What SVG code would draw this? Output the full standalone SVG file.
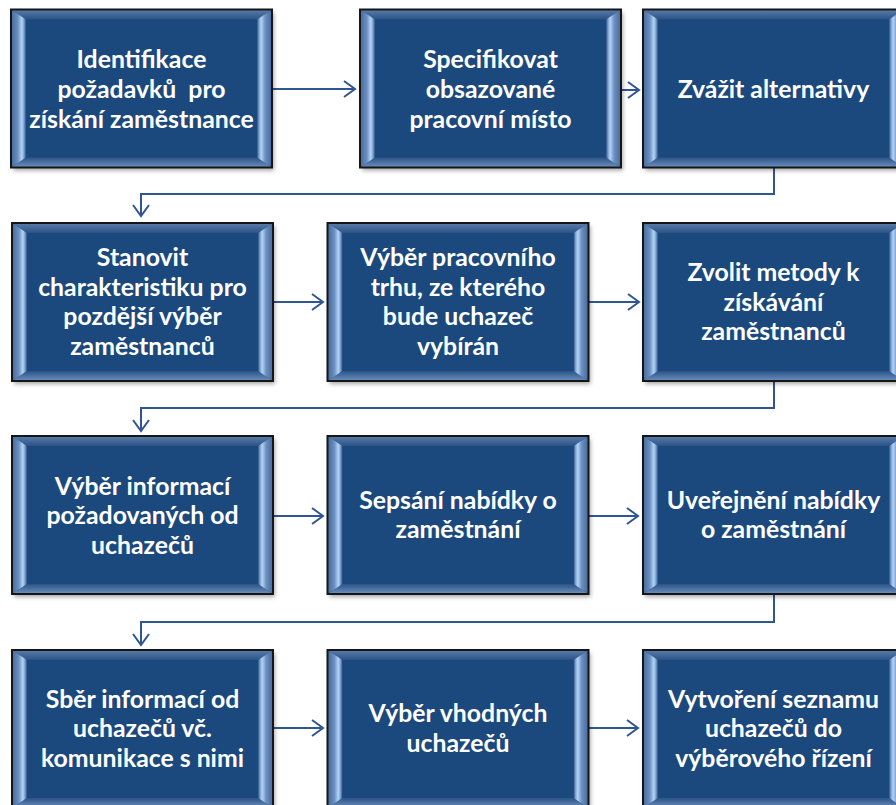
<svg xmlns="http://www.w3.org/2000/svg" xmlns:xlink="http://www.w3.org/1999/xlink" width="896" height="805" viewBox="0 0 896 805">
<style>
  .lbl { font-family: Lato, "Open Sans", "Liberation Sans", sans-serif; font-weight: bold; font-size: 24.8px; fill: #ffffff; text-anchor: middle; }
  .conn { fill: none; stroke: #2f5693; stroke-width: 2; }
</style>
<defs>
  <linearGradient id="gTop" x1="0" y1="0" x2="0" y2="1">
    <stop offset="0" stop-color="#5a7eab"/>
    <stop offset="1" stop-color="#2c5387"/>
  </linearGradient>
  <linearGradient id="gBot" x1="0" y1="0" x2="0" y2="1">
    <stop offset="0" stop-color="#2c5387"/>
    <stop offset="1" stop-color="#6d91bf"/>
  </linearGradient>
  <linearGradient id="gLeft" x1="0" y1="0" x2="1" y2="0">
    <stop offset="0" stop-color="#46689a"/>
    <stop offset="0.45" stop-color="#6a8fc0"/>
    <stop offset="0.72" stop-color="#b4d3f4"/>
    <stop offset="0.86" stop-color="#7ea3d2"/>
    <stop offset="1" stop-color="#2a5186"/>
  </linearGradient>
  <linearGradient id="gRight" x1="0" y1="0" x2="1" y2="0">
    <stop offset="0" stop-color="#2a5186"/>
    <stop offset="0.14" stop-color="#7ea3d2"/>
    <stop offset="0.28" stop-color="#b4d3f4"/>
    <stop offset="0.55" stop-color="#6a8fc0"/>
    <stop offset="1" stop-color="#46689a"/>
  </linearGradient>
  <filter id="shadow" x="-5%" y="-5%" width="115%" height="120%">
    <feDropShadow dx="2" dy="3" stdDeviation="2" flood-color="#000" flood-opacity="0.35"/>
  </filter>
  <g id="box">
    <rect x="0" y="0" width="261" height="158" fill="#1f497d" filter="url(#shadow)"/>
    <polygon points="0,0 261,0 246,10 15,10" fill="url(#gTop)"/>
    <polygon points="0,158 261,158 246,148 15,148" fill="url(#gBot)"/>
    <polygon points="0,0 15,10 15,148 0,158" fill="url(#gLeft)"/>
    <polygon points="261,0 246,10 246,148 261,158" fill="url(#gRight)"/>
    <rect x="0" y="0" width="261" height="158" fill="none" stroke="#161616" stroke-width="2"/>
  </g>
  <marker id="arr" markerWidth="14" markerHeight="18" refX="12" refY="9" orient="auto" markerUnits="userSpaceOnUse">
    <path d="M1,1 L12,9 L1,17" fill="none" stroke="#2f5693" stroke-width="2"/>
  </marker>
</defs>

<g id="connectors">
  <path class="conn" d="M272,89 H355" marker-end="url(#arr)"/>
  <path class="conn" d="M621,90 H639" marker-end="url(#arr)"/>
  <path class="conn" d="M774,167 V194 H141 V216" marker-end="url(#arr)"/>
  <path class="conn" d="M272,302 H323" marker-end="url(#arr)"/>
  <path class="conn" d="M588,302 H639" marker-end="url(#arr)"/>
  <path class="conn" d="M774,381 V408 H141 V431" marker-end="url(#arr)"/>
  <path class="conn" d="M272,516 H323" marker-end="url(#arr)"/>
  <path class="conn" d="M587,516 H638" marker-end="url(#arr)"/>
  <path class="conn" d="M774,594 V622 H141 V645" marker-end="url(#arr)"/>
  <path class="conn" d="M272,728 H323" marker-end="url(#arr)"/>
  <path class="conn" d="M587,728 H638" marker-end="url(#arr)"/>
</g>

<g id="n1">
  <use xlink:href="#box" href="#box" x="11" y="9.5"/>
  <text class="lbl" xml:space="preserve"><tspan x="141.5" y="68">Identifikace</tspan><tspan x="141.5" y="98">požadavků  pro</tspan><tspan x="141.5" y="127.5">získání zaměstnance</tspan></text>
</g>
<g id="n2">
  <use xlink:href="#box" href="#box" x="360" y="9.5"/>
  <text class="lbl"><tspan x="490.5" y="68">Specifikovat</tspan><tspan x="490.5" y="98">obsazované</tspan><tspan x="490.5" y="127.5">pracovní místo</tspan></text>
</g>
<g id="n3">
  <use xlink:href="#box" href="#box" x="643" y="9.5"/>
  <text class="lbl"><tspan x="773.5" y="97.5">Zvážit alternativy</tspan></text>
</g>

<g id="n4">
  <use xlink:href="#box" href="#box" x="12" y="223"/>
  <text class="lbl"><tspan x="142.5" y="266">Stanovit</tspan><tspan x="142.5" y="295.5">charakteristiku pro</tspan><tspan x="142.5" y="325">pozdější výběr</tspan><tspan x="142.5" y="354.5">zaměstnanců</tspan></text>
</g>
<g id="n5">
  <use xlink:href="#box" href="#box" x="327.5" y="223"/>
  <text class="lbl"><tspan x="458" y="266">Výběr pracovního</tspan><tspan x="458" y="295.5">trhu, ze kterého</tspan><tspan x="458" y="325">bude uchazeč</tspan><tspan x="458" y="354.5">vybírán</tspan></text>
</g>
<g id="n6">
  <use xlink:href="#box" href="#box" x="643" y="223"/>
  <text class="lbl"><tspan x="773.5" y="281">Zvolit metody k</tspan><tspan x="773.5" y="310.5">získávání</tspan><tspan x="773.5" y="340">zaměstnanců</tspan></text>
</g>

<g id="n7">
  <use xlink:href="#box" href="#box" x="12" y="436"/>
  <text class="lbl"><tspan x="142.5" y="494.5">Výběr informací</tspan><tspan x="142.5" y="524">požadovaných od</tspan><tspan x="142.5" y="553.5">uchazečů</tspan></text>
</g>
<g id="n8">
  <use xlink:href="#box" href="#box" x="327.5" y="436"/>
  <text class="lbl"><tspan x="458" y="508.5">Sepsání nabídky o</tspan><tspan x="458" y="538">zaměstnání</tspan></text>
</g>
<g id="n9">
  <use xlink:href="#box" href="#box" x="643" y="436"/>
  <text class="lbl"><tspan x="773.5" y="508.5">Uveřejnění nabídky</tspan><tspan x="773.5" y="538">o zaměstnání</tspan></text>
</g>

<g id="n10">
  <use xlink:href="#box" href="#box" x="12" y="650"/>
  <text class="lbl"><tspan x="142.5" y="707.5">Sběr informací od</tspan><tspan x="142.5" y="737">uchazečů vč.</tspan><tspan x="142.5" y="766.5">komunikace s nimi</tspan></text>
</g>
<g id="n11">
  <use xlink:href="#box" href="#box" x="327.5" y="650"/>
  <text class="lbl"><tspan x="458" y="722">Výběr vhodných</tspan><tspan x="458" y="751.5">uchazečů</tspan></text>
</g>
<g id="n12">
  <use xlink:href="#box" href="#box" x="643" y="650"/>
  <text class="lbl"><tspan x="773.5" y="707.5">Vytvoření seznamu</tspan><tspan x="773.5" y="737">uchazečů do</tspan><tspan x="773.5" y="766.5">výběrového řízení</tspan></text>
</g>
</svg>
